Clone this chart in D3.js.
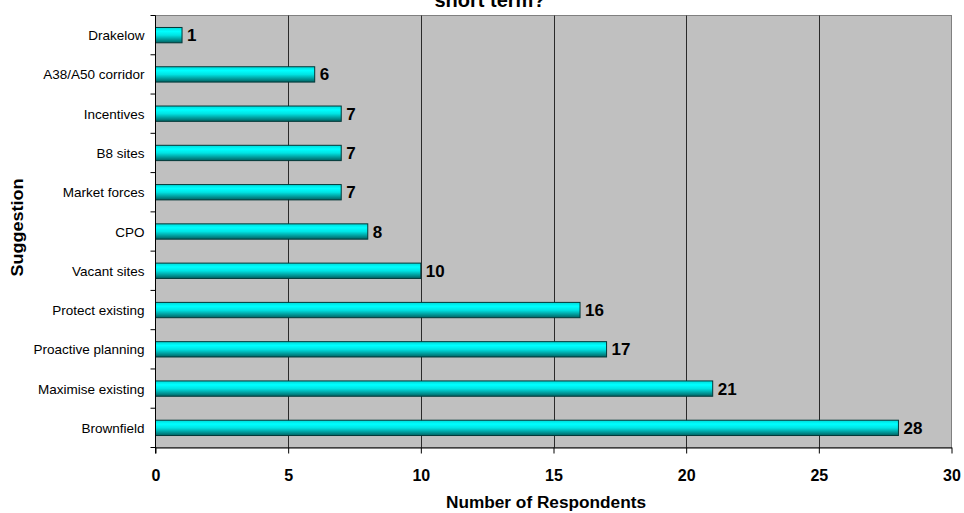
<!DOCTYPE html>
<html><head><meta charset="utf-8">
<script src="https://cdn.jsdelivr.net/npm/d3@7"></script>
<style>body{margin:0;background:#fff;}svg{display:block;font-family:"Liberation Sans",Arial,sans-serif;}</style>
</head><body>
<svg id="c" width="964" height="513"></svg>
<script>
const categories = ["Drakelow","A38/A50 corridor","Incentives","B8 sites","Market forces","CPO","Vacant sites","Protect existing","Proactive planning","Maximise existing","Brownfield"];
const values = [1,6,7,7,7,8,10,16,17,21,28];
const xTicks = [0,5,10,15,20,25,30];
const titleText = "short term?";
const xTitle = "Number of Respondents";
const yTitle = "Suggestion";

const svg = d3.select("#c");
const L = 155.5, R = 951.5, T = 15.5, B = 447.5;
const x = d3.scaleLinear().domain([0,30]).range([L,R]);
const yb = d3.scaleBand().domain(categories).range([T,B]);
const barH = yb.bandwidth() * 0.39;
const barY = c => yb(c) + (yb.bandwidth() - barH) / 2;

const defs = svg.append("defs");
const g = defs.append("linearGradient").attr("id","bar").attr("x1",0).attr("y1",0).attr("x2",0).attr("y2",1);
g.append("stop").attr("offset","0%").attr("stop-color","#00d8d8");
g.append("stop").attr("offset","25%").attr("stop-color","#00ffff");
g.append("stop").attr("offset","50%").attr("stop-color","#00e4e4");
g.append("stop").attr("offset","100%").attr("stop-color","#006262");

// plot background
svg.append("rect").attr("x",L).attr("y",T).attr("width",R-L).attr("height",B-T).attr("fill","#c0c0c0").attr("stroke","#808080").attr("stroke-width",1);

// gridlines
svg.append("g").selectAll("line").data(xTicks.filter(d=>d>0&&d<30)).join("line")
  .attr("x1",d=>Math.round(x(d))+0.5).attr("x2",d=>Math.round(x(d))+0.5).attr("y1",T).attr("y2",B)
  .attr("stroke","#2a2a2a").attr("stroke-width",1);

// bars
svg.append("g").selectAll("rect").data(values).join("rect")
  .attr("x",L).attr("y",(d,i)=>barY(categories[i]))
  .attr("width",d=>x(d)-L).attr("height",barH)
  .attr("fill","url(#bar)").attr("stroke","#003838").attr("stroke-width",1);

// value labels
svg.append("g").selectAll("text").data(values).join("text")
  .attr("x",d=>x(d)+5).attr("y",(d,i)=>yb(categories[i])+yb.bandwidth()/2+6)
  .attr("font-size",17).attr("font-weight","bold").attr("fill","#000").text(d=>d);

// x axis
const xa = svg.append("g").attr("transform",`translate(0,${B})`)
  .call(d3.axisBottom(x).tickValues(xTicks).tickSize(6).tickPadding(16).tickSizeOuter(0));
xa.select(".domain").attr("stroke","#000");
xa.selectAll(".tick line").attr("stroke","#000");
xa.selectAll("text").attr("font-size",16).attr("font-weight","bold").attr("fill","#000").attr("font-family","Liberation Sans, Arial, sans-serif");

// y axis: ticks at band boundaries
const ya = svg.append("g").attr("transform",`translate(${L},0)`);
ya.append("line").attr("x1",0).attr("x2",0).attr("y1",T).attr("y2",B+6).attr("stroke","#000");
const bounds = categories.map(c=>yb(c)).concat([B]);
ya.selectAll("line.t").data(bounds).join("line").attr("class","t")
  .attr("x1",-5).attr("x2",0).attr("y1",d=>d).attr("y2",d=>d).attr("stroke","#000");
ya.selectAll("text").data(categories).join("text")
  .attr("x",-11).attr("y",d=>yb(d)+yb.bandwidth()/2+5)
  .attr("text-anchor","end").attr("font-size",13.5).attr("fill","#000").text(d=>d);

// titles
svg.append("text").attr("x",546).attr("y",508).attr("text-anchor","middle")
  .attr("font-size",16).attr("font-weight","bold").attr("textLength",200).attr("lengthAdjust","spacingAndGlyphs").text(xTitle);
svg.append("text").attr("transform",`translate(23,227.5) rotate(-90)`).attr("text-anchor","middle")
  .attr("font-size",16).attr("font-weight","bold").attr("textLength",98).attr("lengthAdjust","spacingAndGlyphs").text(yTitle);
svg.append("text").attr("x",490).attr("y",7).attr("text-anchor","middle")
  .attr("font-size",20).attr("font-weight","bold").text(titleText);
</script>
</body></html>
